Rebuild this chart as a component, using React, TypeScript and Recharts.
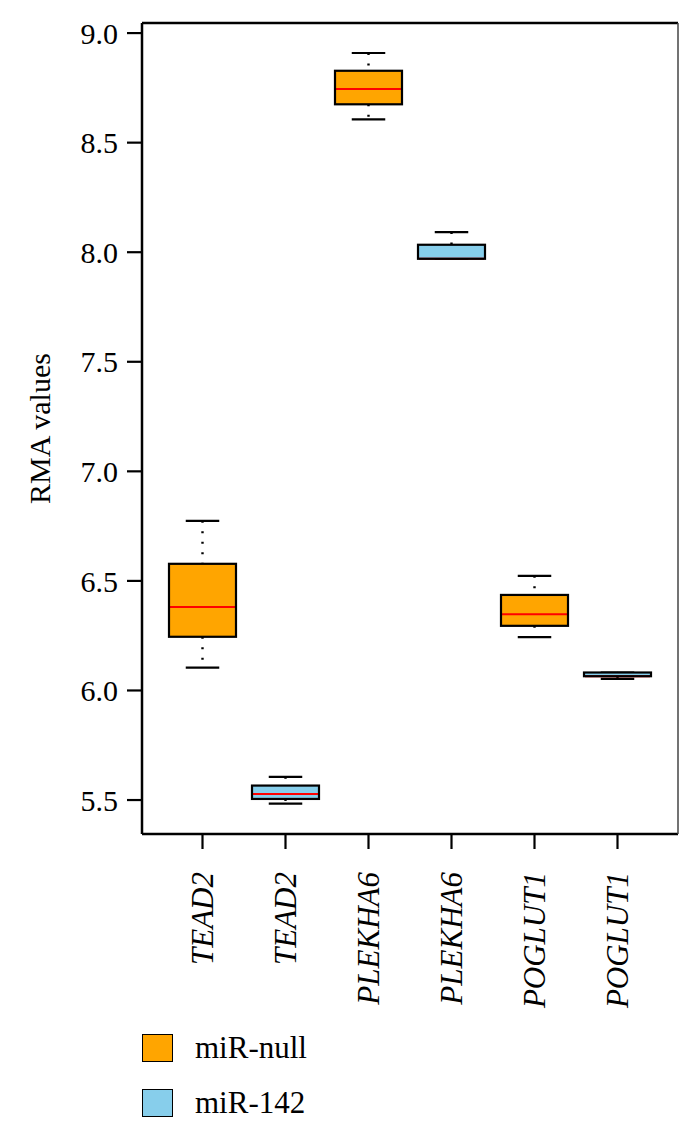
import React from 'react';
import { ComposedChart, Bar, XAxis, YAxis } from 'recharts';

const categories = ['TEAD2', 'TEAD2', 'PLEKHA6', 'PLEKHA6', 'POGLUT1', 'POGLUT1'];
const groups = ['miR-null', 'miR-142', 'miR-null', 'miR-142', 'miR-null', 'miR-142'];
const whiskerLow = [6.104, 5.484, 8.606, 7.97, 6.243, 6.053];
const q1 = [6.245, 5.505, 8.675, 7.97, 6.295, 6.065];
const median = [6.381, 5.527, 8.745, 7.97, 6.348, 6.065];
const q3 = [6.578, 5.566, 8.828, 8.034, 6.436, 6.082];
const whiskerHigh = [6.774, 5.606, 8.909, 8.092, 6.523, 6.082];
const yTicks = [5.5, 6.0, 6.5, 7.0, 7.5, 8.0, 8.5, 9.0];
const legendItems = ['miR-null', 'miR-142'];

const COLORS: Record<string, string> = { 'miR-null': '#FFA500', 'miR-142': '#87CEEB' };
const FONT = '"Liberation Serif", "Times New Roman", serif';

const data = categories.map((c, i) => ({
  id: `g${i}`,
  name: c,
  group: groups[i],
  low: whiskerLow[i],
  q1: q1[i],
  median: median[i],
  q3: q3[i],
  high: whiskerHigh[i],
}));

const BoxShape = (props: any) => {
  const { x, y, width, height, payload } = props;
  const top = Math.min(y, y + height);
  const h = Math.abs(height);
  const { low, high } = payload;
  const py = (v: number) => (high === low ? top : top + ((high - v) / (high - low)) * h);
  const cx = x + width / 2;
  const capW = width * 0.5;
  const yHigh = py(high);
  const yLow = py(low);
  const yQ3 = py(payload.q3);
  const yQ1 = py(payload.q1);
  const yMed = py(payload.median);
  const fill = COLORS[payload.group];
  return (
    <g>
      <line x1={cx} x2={cx} y1={yHigh} y2={yQ3} stroke="#000" strokeWidth={2.4} strokeDasharray="2 8.5" />
      <line x1={cx} x2={cx} y1={yQ1} y2={yLow} stroke="#000" strokeWidth={2.4} strokeDasharray="2 8.5" />
      <line x1={cx - capW / 2} x2={cx + capW / 2} y1={yHigh} y2={yHigh} stroke="#000" strokeWidth={2.2} />
      <line x1={cx - capW / 2} x2={cx + capW / 2} y1={yLow} y2={yLow} stroke="#000" strokeWidth={2.2} />
      <rect x={x} y={yQ3} width={width} height={Math.max(yQ1 - yQ3, 0)} fill={fill} stroke="none" />
      <line x1={x + 1} x2={x + width - 1} y1={yMed} y2={yMed} stroke="#FF0000" strokeWidth={2} />
      <rect x={x} y={yQ3} width={width} height={Math.max(yQ1 - yQ3, 0)} fill="none" stroke="#000" strokeWidth={2.2} />
    </g>
  );
};

const XTick = (props: any) => {
  const { x, y, payload } = props;
  const idx = data.findIndex((d) => d.id === payload.value);
  const label = idx >= 0 ? data[idx].name : '';
  return (
    <text
      x={x}
      y={y}
      transform={`rotate(-90, ${x}, ${y})`}
      textAnchor="end"
      dominantBaseline="central"
      fontFamily={FONT}
      fontStyle="italic"
      fontSize={31}
      fill="#000"
    >
      {label}
    </text>
  );
};

const YLabel = (props: any) => {
  const vb = props.viewBox || {};
  const cx = vb.x - 23;
  const cy = vb.y + vb.height / 2;
  return (
    <text
      x={cx}
      y={cy}
      transform={`rotate(-90, ${cx}, ${cy})`}
      textAnchor="middle"
      dominantBaseline="central"
      fontFamily={FONT}
      fontSize={30}
      fill="#000"
    >
      RMA values
    </text>
  );
};

export default function App() {
  return (
    <div style={{ position: 'absolute', left: 0, top: 0, width: 700, height: 1137, background: '#fff' }}>
      <ComposedChart
        width={700}
        height={1137}
        data={data}
        margin={{ top: 22, right: 21, bottom: 103, left: 62 }}
      >
        <XAxis
          dataKey="id"
          type="category"
          padding={{ left: 19, right: 19 }}
          tickSize={15}
          tickMargin={23}
          tick={<XTick />}
          tickLine={{ stroke: '#000', strokeWidth: 2.2 }}
          axisLine={{ stroke: '#000', strokeWidth: 2.5 }}
          height={200}
          interval={0}
        />
        <XAxis
          xAxisId="top"
          dataKey="id"
          orientation="top"
          type="category"
          tick={false}
          tickLine={false}
          axisLine={{ stroke: '#000', strokeWidth: 2.5 }}
          height={1}
        />
        <YAxis
          domain={[5.345, 9.046]}
          ticks={yTicks}
          type="number"
          allowDataOverflow
          width={80}
          tickSize={15}
          tickMargin={9}
          tickFormatter={(v: number) => v.toFixed(1)}
          tick={{ fill: '#000', fontFamily: FONT, fontSize: 30 }}
          tickLine={{ stroke: '#000', strokeWidth: 2.2 }}
          axisLine={{ stroke: '#000', strokeWidth: 2.5 }}
          label={{ content: <YLabel /> }}
        />
        <YAxis
          yAxisId="right"
          orientation="right"
          domain={[5.345, 9.046]}
          type="number"
          tick={false}
          tickLine={false}
          axisLine={{ stroke: '#444', strokeWidth: 1.5 }}
          width={1}
        />
        <Bar
          dataKey={(d: any) => [d.low, d.high]}
          barSize={67}
          shape={<BoxShape />}
          isAnimationActive={false}
        />
      </ComposedChart>
      {legendItems.map((g, i) => (
        <div
          key={g}
          style={{
            position: 'absolute',
            left: 142,
            top: 1034 + i * 55,
            display: 'flex',
            alignItems: 'center',
            height: 28,
          }}
        >
          <div
            style={{
              width: 31,
              height: 28,
              background: COLORS[g],
              border: '1.5px solid #000',
              boxSizing: 'border-box',
            }}
          />
          <span
            style={{
              marginLeft: 22,
              fontFamily: FONT,
              fontSize: 31,
              color: '#000',
              lineHeight: '28px',
            }}
          >
            {g}
          </span>
        </div>
      ))}
    </div>
  );
}
